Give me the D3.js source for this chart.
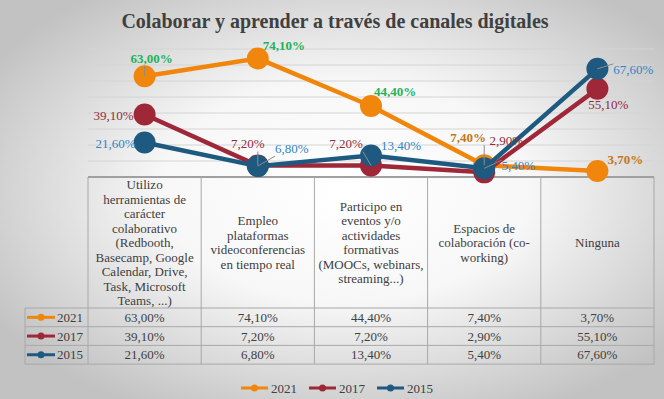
<!DOCTYPE html>
<html>
<head>
<meta charset="utf-8">
<script src="https://cdn.jsdelivr.net/npm/d3@7"></script>
<style>
  body { margin: 0; background: #fff; }
  svg { display: block; }
  text { font-family: "Liberation Serif", "Times New Roman", serif; }
</style>
</head>
<body>
<svg id="chart"></svg>
<script>
// chart data
const categories = [
  ["Utilizo", "herramientas de", "carácter", "colaborativo", "(Redbooth,", "Basecamp, Google", "Calendar, Drive,", "Task, Microsoft", "Teams, ...)"],
  ["Empleo", "plataformas", "videoconferencias", "en tiempo real"],
  ["Participo en", "eventos y/o", "actividades", "formativas", "(MOOCs, webinars,", "streaming...)"],
  ["Espacios de", "colaboración (co-", "working)"],
  ["Ninguna"]
];
const years = ["2021", "2017", "2015"];
const values2021 = [63.0, 74.1, 44.4, 7.4, 3.7];
const values2017 = [39.1, 7.2, 7.2, 2.9, 55.1];
const values2015 = [21.6, 6.8, 13.4, 5.4, 67.6];
const yTicks = [10, 20, 30, 40, 50, 60, 70, 80];

// label placement relative to each marker (dx, dy to text baseline)
const labelOffsets = {
  "2021": [[7, -13], [26, -8], [24, -10], [-16, -23], [28, -7]],
  "2017": [[-31, 6], [-10, -17], [-25, -17], [22, -27], [11, 20]],
  "2015": [[-29, 6], [34, -13], [30, -6], [34, 2], [36, 5]]
};
const leaders = {
  "2021": [1, 0, 0, 1, 0],
  "2017": [0, 1, 1, 0, 0],
  "2015": [0, 1, 0, 1, 1]
};

const W = 664, H = 399;
const colors = { "2021": "#f0860b", "2017": "#9e2738", "2015": "#1e5a80" };
const labelColors = {
  "2021": ["#1fb25a", "#1fb25a", "#1fb25a", "#c4761a", "#c4761a"],
  "2017": Array(5).fill("#8f2d3c"),
  "2015": Array(5).fill("#2f86c6")
};
const textColor = "#404040";
const series = [
  { year: "2021", values: values2021 },
  { year: "2017", values: values2017 },
  { year: "2015", values: values2015 }
];
const fmt = v => d3.format(".2f")(v).replace(".", ",") + "%";

const svg = d3.select("#chart").attr("width", W).attr("height", H);

// background
const defs = svg.append("defs");
const grad = defs.append("radialGradient").attr("id", "bg")
  .attr("cx", "52%").attr("cy", "48%").attr("r", "62%");
grad.append("stop").attr("offset", "0%").attr("stop-color", "#ffffff");
grad.append("stop").attr("offset", "45%").attr("stop-color", "#f7f7f7");
grad.append("stop").attr("offset", "100%").attr("stop-color", "#c2c2c2");
svg.append("rect").attr("width", W).attr("height", H).attr("fill", "url(#bg)");

// title
svg.append("text")
  .attr("x", 335).attr("y", 28)
  .attr("text-anchor", "middle")
  .attr("font-size", 20).attr("font-weight", "bold")
  .attr("fill", textColor)
  .text("Colaborar y aprender a través de canales digitales");

// scales
const x = d3.scaleBand().domain(d3.range(categories.length)).range([88, 654]).padding(0);
const y = d3.scaleLinear().domain([0, 80]).range([177, 49]);
const cx = i => x(i) + x.bandwidth() / 2;

// gridlines
svg.append("g").selectAll("line").data(yTicks).join("line")
  .attr("x1", 88).attr("x2", 654)
  .attr("y1", d => y(d)).attr("y2", d => y(d))
  .attr("stroke", "#d4d4d4").attr("stroke-width", 1);

// table
const headerTop = y(0), headerBottom = 308, rowH = 18.7;
const tableBottom = headerBottom + rowH * years.length;
const table = svg.append("g").attr("stroke", "#a8a8a8").attr("stroke-width", 1).attr("fill", "none");
// horizontal lines
table.append("line").attr("x1", 88).attr("x2", 654).attr("y1", headerTop).attr("y2", headerTop)
  .attr("stroke", "#a0a0a0").attr("stroke-width", 2);
d3.range(years.length + 1).forEach(r => {
  const yy = headerBottom + r * rowH;
  table.append("line").attr("x1", 25).attr("x2", 654).attr("y1", yy).attr("y2", yy);
});
// vertical lines
d3.range(categories.length + 1).forEach(i => {
  const xx = i < categories.length ? x(i) : x(i - 1) + x.bandwidth();
  table.append("line").attr("x1", xx).attr("x2", xx).attr("y1", headerTop).attr("y2", tableBottom);
});
table.append("line").attr("x1", 25).attr("x2", 25).attr("y1", headerBottom).attr("y2", tableBottom);

// header text
const lineH = 14.5;
const headerMid = (headerTop + headerBottom) / 2 + 4.5;
categories.forEach((lines, i) => {
  const t = svg.append("text").attr("text-anchor", "middle").attr("font-size", 13).attr("fill", textColor);
  lines.forEach((ln, k) => {
    t.append("tspan").attr("x", cx(i))
      .attr("y", headerMid + (k - (lines.length - 1) / 2) * lineH)
      .text(ln);
  });
});

// table rows
series.forEach((s, r) => {
  const rowMid = headerBottom + rowH * r + rowH / 2;
  svg.append("line").attr("x1", 27).attr("x2", 55).attr("y1", rowMid).attr("y2", rowMid)
    .attr("stroke", colors[s.year]).attr("stroke-width", 3);
  svg.append("circle").attr("cx", 41).attr("cy", rowMid).attr("r", 3.5).attr("fill", colors[s.year]);
  svg.append("text").attr("x", 57).attr("y", rowMid + 4.5).attr("font-size", 13).attr("fill", textColor).text(s.year);
  svg.append("g").selectAll("text").data(s.values).join("text")
    .attr("x", (d, i) => cx(i)).attr("y", rowMid + 4.5)
    .attr("text-anchor", "middle").attr("font-size", 13).attr("fill", textColor)
    .text(d => fmt(d));
});

// lines and markers
const line = d3.line().x((d, i) => cx(i)).y(d => y(d));
series.forEach(s => {
  const g = svg.append("g");
  g.append("path").datum(s.values).attr("d", line)
    .attr("fill", "none").attr("stroke", colors[s.year]).attr("stroke-width", 4.5)
    .attr("stroke-linejoin", "round");
  g.selectAll("circle").data(s.values).join("circle")
    .attr("cx", (d, i) => cx(i)).attr("cy", d => y(d)).attr("r", 11)
    .attr("fill", colors[s.year]);
});

// data labels
series.forEach(s => {
  const g = svg.append("g");
  s.values.forEach((v, i) => {
    const mx = cx(i), my = y(v);
    const [dx, dy] = labelOffsets[s.year][i];
    const bold = s.year === "2021";
    const lbl = g.append("text")
      .attr("x", mx + dx).attr("y", my + dy)
      .attr("text-anchor", "middle").attr("font-size", 13)
      .attr("font-weight", bold ? "bold" : "normal")
      .attr("fill", labelColors[s.year][i])
      .text(fmt(v));
    if (leaders[s.year][i]) {
      const w = lbl.node().getComputedTextLength();
      const lx = Math.max(mx + dx - w / 2, Math.min(mx, mx + dx + w / 2));
      const ly = dy < 0 ? my + dy + 3 : my + dy - 10;
      g.insert("line", "text")
        .attr("x1", mx).attr("y1", my).attr("x2", lx).attr("y2", ly)
        .attr("stroke", "#8c8c8c").attr("stroke-width", 1);
    }
  });
});

// legend
const legend = svg.append("g").attr("transform", "translate(241,388)");
years.forEach((yr, k) => {
  const gx = k * 68;
  legend.append("line").attr("x1", gx).attr("x2", gx + 27).attr("y1", 0).attr("y2", 0)
    .attr("stroke", colors[yr]).attr("stroke-width", 3);
  legend.append("circle").attr("cx", gx + 13.5).attr("cy", 0).attr("r", 3.5).attr("fill", colors[yr]);
  legend.append("text").attr("x", gx + 30).attr("y", 4.5).attr("font-size", 13).attr("fill", textColor).text(yr);
});
</script>
</body>
</html>
